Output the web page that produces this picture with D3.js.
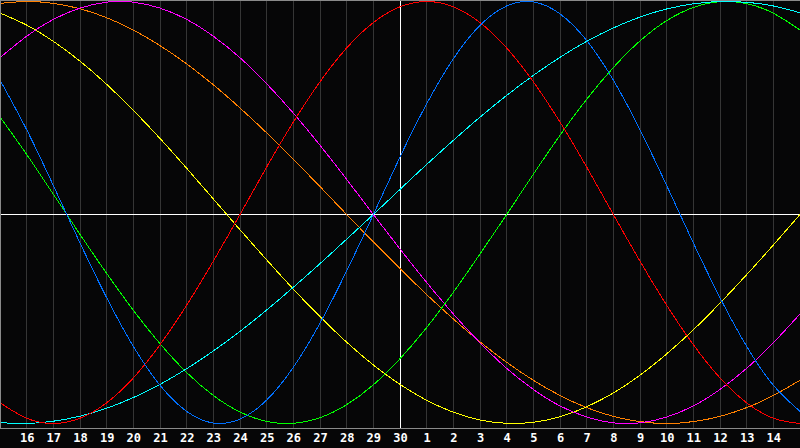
<!DOCTYPE html>
<html>
<head>
<meta charset="utf-8">
<script src="https://cdn.jsdelivr.net/npm/d3@7"></script>
<style>
  html, body { margin: 0; padding: 0; background: #060607; }
  svg { display: block; }
</style>
</head>
<body>
<svg id="chart" width="800" height="448"></svg>
<script>
// Day labels (tick positions are day index 1..29 across the 0..30 span)
const dayLabels = ["16","17","18","19","20","21","22","23","24","25","26","27","28","29","30",
                   "1","2","3","4","5","6","7","8","9","10","11","12","13","14"];
const todayLabel = "30";

// Daily values (index 0 = left edge, 30 = right edge)
const red     = [-0.901,-0.975,-1.000,-0.975,-0.901,-0.782,-0.623,-0.434,-0.223,0.000,0.223,0.434,0.623,0.782,0.901,0.975,1.000,0.975,0.901,0.782,0.623,0.434,0.223,0.000,-0.223,-0.434,-0.623,-0.782,-0.901,-0.975,-1.000];
const blue    = [0.631,0.398,0.136,-0.136,-0.398,-0.631,-0.817,-0.942,-0.998,-0.979,-0.888,-0.731,-0.520,-0.270,0.000,0.270,0.520,0.731,0.888,0.979,0.998,0.942,0.817,0.631,0.398,0.136,-0.136,-0.398,-0.631,-0.817,-0.942];
const green   = [0.458,0.282,0.095,-0.095,-0.282,-0.458,-0.618,-0.756,-0.866,-0.945,-0.990,-0.999,-0.972,-0.910,-0.815,-0.690,-0.541,-0.372,-0.189,0.000,0.189,0.372,0.541,0.690,0.815,0.910,0.972,0.999,0.990,0.945,0.866];
const magenta = [0.736,0.837,0.916,0.969,0.997,0.997,0.969,0.916,0.837,0.736,0.614,0.476,0.325,0.165,0.000,-0.165,-0.325,-0.476,-0.614,-0.736,-0.837,-0.916,-0.969,-0.997,-0.997,-0.969,-0.916,-0.837,-0.736,-0.614,-0.476];
const yellow  = [0.946,0.889,0.813,0.720,0.611,0.489,0.357,0.217,0.073,-0.073,-0.217,-0.357,-0.489,-0.611,-0.720,-0.813,-0.889,-0.946,-0.983,-0.999,-0.994,-0.968,-0.920,-0.854,-0.769,-0.667,-0.552,-0.424,-0.288,-0.146,0.000];
const orange  = [0.991,1.000,0.991,0.966,0.924,0.866,0.793,0.707,0.609,0.500,0.383,0.259,0.131,0.000,-0.131,-0.259,-0.383,-0.500,-0.609,-0.707,-0.793,-0.866,-0.924,-0.966,-0.991,-1.000,-0.991,-0.966,-0.924,-0.866,-0.793];
const cyan    = [-0.996,-1.000,-0.989,-0.965,-0.927,-0.876,-0.813,-0.738,-0.653,-0.559,-0.457,-0.348,-0.235,-0.118,0.000,0.118,0.235,0.348,0.457,0.559,0.653,0.738,0.813,0.876,0.927,0.965,0.989,1.000,0.996,0.979,0.947];

const series = [
  {values: orange,  color: "#ff8000"},
  {values: yellow,  color: "#ffff00"},
  {values: magenta, color: "#ff00ff"},
  {values: green,   color: "#00ff00"},
  {values: cyan,    color: "#00ffff"},
  {values: red,     color: "#ff0000"},
  {values: blue,    color: "#0070ff"}
];

const W = 800, plotBottom = 428;
const svg = d3.select("#chart");

const x = d3.scaleLinear().domain([0, 30]).range([0, W]);
const y = d3.scaleLinear().domain([-1, 0, 1]).range([423.5, 214.5, 1.5]);

// background
svg.append("rect").attr("x", 0).attr("y", 0).attr("width", W).attr("height", 448).attr("fill", "#060607");

const tickPos = dayLabels.map((_, i) => i + 1);
const px = d => Math.floor(x(d)) + 0.5;

// vertical grid lines
svg.append("g").selectAll("line")
  .data(tickPos)
  .join("line")
  .attr("x1", px).attr("x2", px)
  .attr("y1", 0).attr("y2", plotBottom)
  .attr("stroke", d => dayLabels[d - 1] === todayLabel ? "#ffffff" : "#353535")
  .attr("stroke-width", 1)
  .attr("shape-rendering", "crispEdges");

// horizontal zero line
svg.append("line")
  .attr("x1", 0).attr("x2", W)
  .attr("y1", Math.floor(y(0)) + 0.5).attr("y2", Math.floor(y(0)) + 0.5)
  .attr("stroke", "#ffffff").attr("shape-rendering", "crispEdges");

// redraw today line on top
const todayIdx = dayLabels.indexOf(todayLabel) + 1;
svg.append("line")
  .attr("x1", px(todayIdx)).attr("x2", px(todayIdx))
  .attr("y1", 0).attr("y2", plotBottom)
  .attr("stroke", "#ffffff").attr("shape-rendering", "crispEdges");

// curves
const line = d3.line()
  .x((d, i) => x(i))
  .y(d => y(d))
  .curve(d3.curveNatural);

svg.append("g").selectAll("path")
  .data(series)
  .join("path")
  .attr("d", s => line(s.values))
  .attr("fill", "none")
  .attr("stroke", s => s.color)
  .attr("stroke-width", 1)
  .attr("shape-rendering", "crispEdges");

// frame
const frame = svg.append("g").attr("stroke", "#8a8a8a").attr("shape-rendering", "crispEdges");
frame.append("line").attr("x1", 0).attr("x2", W).attr("y1", 0.5).attr("y2", 0.5);
frame.append("line").attr("x1", 0.5).attr("x2", 0.5).attr("y1", 0).attr("y2", plotBottom + 1);
frame.append("line").attr("x1", 0).attr("x2", W).attr("y1", plotBottom + 0.5).attr("y2", plotBottom + 0.5);

// day labels via axis
const axis = d3.axisBottom(x)
  .tickValues(tickPos)
  .tickFormat(d => dayLabels[d - 1])
  .tickSize(0)
  .tickPadding(0);

const ax = svg.append("g")
  .attr("transform", `translate(0, ${plotBottom + 3})`)
  .call(axis);
ax.select(".domain").remove();
ax.selectAll("text")
  .attr("fill", "#ffffff")
  .attr("font-family", "'DejaVu Sans Mono', monospace")
  .attr("font-weight", "bold")
  .attr("font-size", "12px")
  .attr("dy", "0.95em");
</script>
</body>
</html>
